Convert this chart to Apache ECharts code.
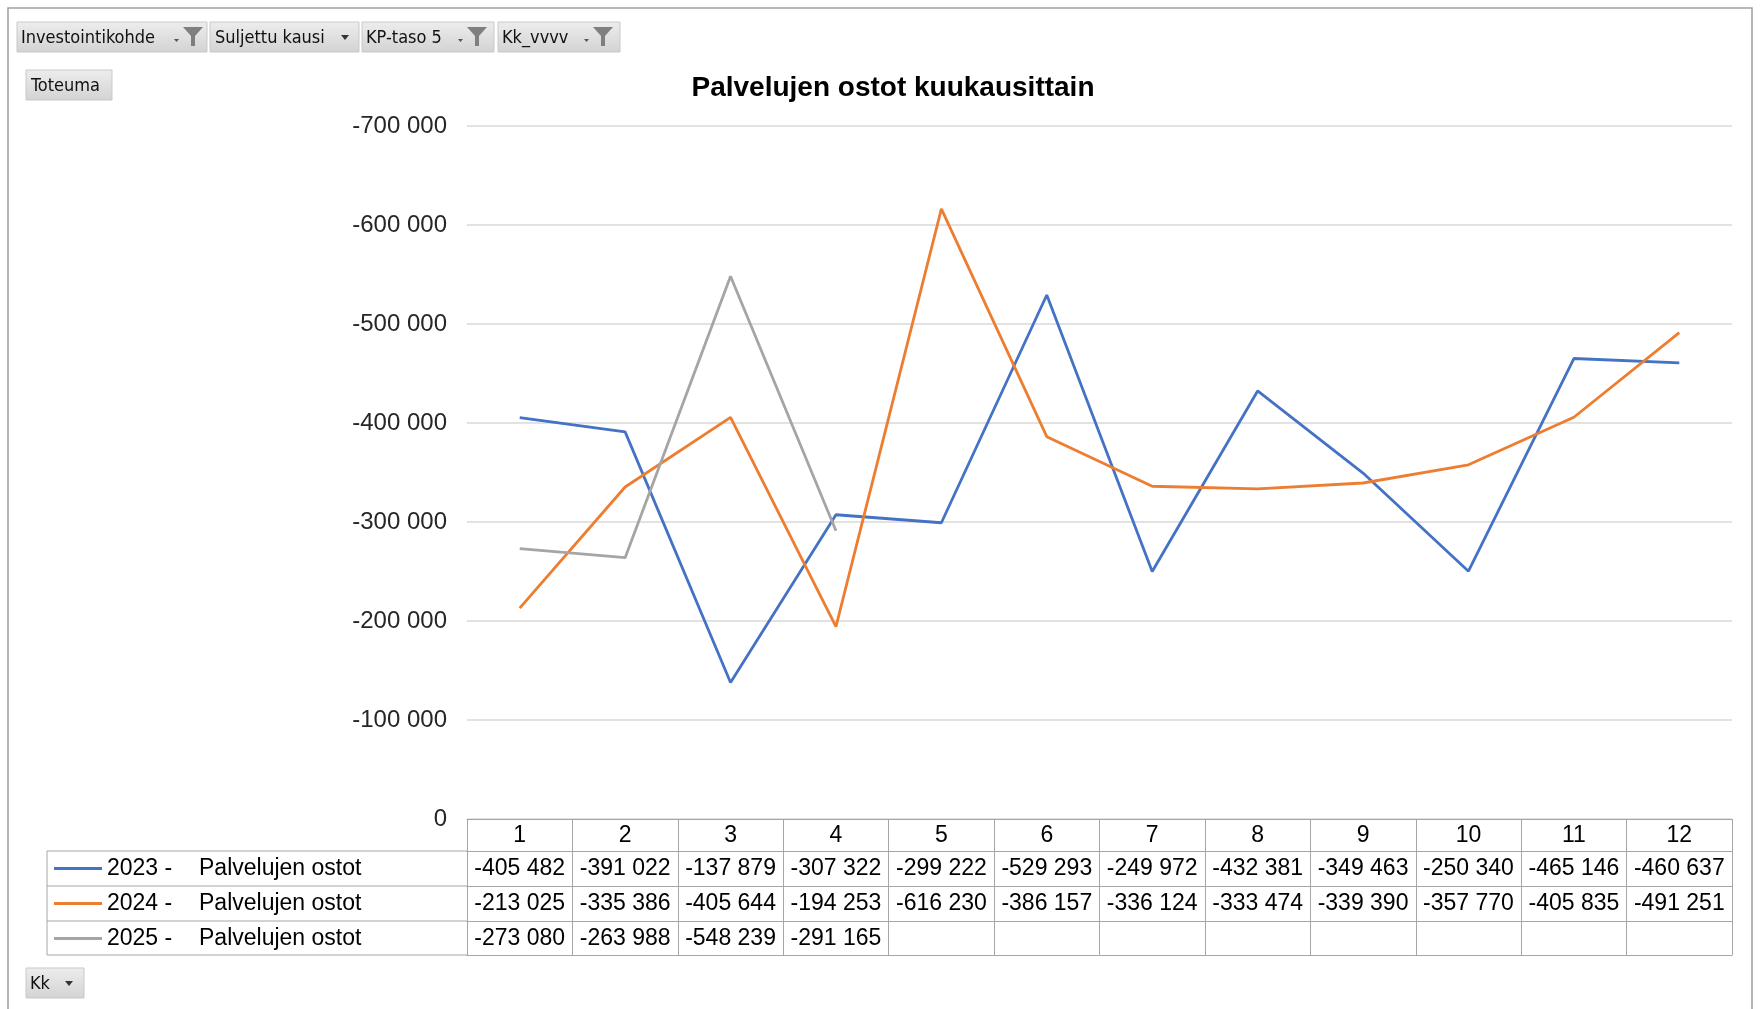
<!DOCTYPE html>
<html>
<head>
<meta charset="utf-8">
<script src="https://cdn.jsdelivr.net/npm/echarts@6/dist/echarts.min.js"></script>
<style>
  html, body { margin: 0; background: #fff; }
  #chart { width: 1761px; height: 1009px; }
</style>
</head>
<body>
<div id="chart"></div>
<script>
// kuukaudet ja sarjat
const months = ['1', '2', '3', '4', '5', '6', '7', '8', '9', '10', '11', '12'];
const v2023 = [-405482, -391022, -137879, -307322, -299222, -529293, -249972, -432381, -349463, -250340, -465146, -460637];
const v2024 = [-213025, -335386, -405644, -194253, -616230, -386157, -336124, -333474, -339390, -357770, -405835, -491251];
const v2025 = [-273080, -263988, -548239, -291165, null, null, null, null, null, null, null, null];
const yearNames = ['2023 -', '2024 -', '2025 -'];
const rowLabel = 'Palvelujen ostot';

const colors = ['#4472C4', '#ED7D31', '#A5A5A5'];
const lineGray = '#a6a6a6';
const FONT = 'Liberation Sans, Arial, sans-serif';
const NARROW = 'Liberation Sans Narrow, DejaVu Sans Condensed, sans-serif';

function fmt(v) {
  if (v == null) return '';
  const s = Math.abs(v).toFixed(0).replace(/\B(?=(\d{3})+(?!\d))/g, ' ');
  return (v < 0 ? '-' : '') + s;
}

const chart = echarts.init(document.getElementById('chart'));

// taulukon rivit x-akseleina
const rows = [v2023, v2024, v2025];
const rowTop = [851, 886, 921];
const rowH = [35, 35, 34];
const gridBottomY = 819;

const xAxes = [{
  type: 'category',
  data: months,
  position: 'bottom',
  offset: 0,
  axisLine: { lineStyle: { color: lineGray, width: 1 } },
  axisTick: { show: true, interval: 0, length: 32, lineStyle: { color: lineGray } },
  axisLabel: { interval: 0, margin: 5, fontSize: 23, color: '#000', fontFamily: FONT }
}];
rows.forEach((vals, i) => {
  xAxes.push({
    type: 'category',
    data: months,
    position: 'bottom',
    offset: rowTop[i] - gridBottomY,
    axisLine: { lineStyle: { color: lineGray, width: 1 } },
    axisTick: { show: true, interval: 0, length: rowH[i], lineStyle: { color: lineGray } },
    axisLabel: {
      interval: 0, margin: 6, fontSize: 23, color: '#000', fontFamily: FONT,
      formatter: (val, idx) => fmt(vals[idx])
    }
  });
});
xAxes.push({
  type: 'category',
  data: months,
  position: 'bottom',
  offset: 955 - gridBottomY,
  axisLine: { lineStyle: { color: lineGray, width: 1 } },
  axisTick: { show: false },
  axisLabel: { show: false }
});

function funnel(x, y) {
  return [
    { type: 'polygon', shape: { points: [[x - 9, y + 12], [x - 4, y + 12], [x - 6.5, y + 15]] }, style: { fill: '#555' } },
    { type: 'polygon', shape: { points: [[x, y], [x + 20, y], [x + 12, y + 9], [x + 12, y + 19], [x + 8, y + 19], [x + 8, y + 9]] }, style: { fill: '#7f7f7f' } }
  ];
}
function tri(x, y) {
  return { type: 'polygon', shape: { points: [[x - 4, y - 2], [x + 4, y - 2], [x, y + 3]] }, style: { fill: '#333' } };
}
function button(x, y, w, h, label, tx) {
  return [
    {
      type: 'rect', shape: { x: x, y: y, width: w, height: h },
      style: {
        fill: new echarts.graphic.LinearGradient(0, 0, 0, 1, [
          { offset: 0, color: '#ededed' }, { offset: 1, color: '#d3d3d3' }
        ]),
        stroke: '#c9c9c9', lineWidth: 1
      }
    },
    {
      type: 'text', x: tx, y: y + h / 2 + 1,
      style: { text: label, fontSize: 18, fontFamily: NARROW, fill: '#111', textVerticalAlign: 'middle' }
    }
  ];
}

const graphics = [].concat(
  [{ type: 'rect', shape: { x: 8, y: 8, width: 1744, height: 1020 }, style: { fill: 'none', stroke: '#a0a0a0', lineWidth: 1.5 }, silent: true }],
  button(17, 22, 190, 30, 'Investointikohde', 21), funnel(183, 27),
  button(210, 22, 149, 30, 'Suljettu kausi', 215), [tri(345, 37)],
  button(362, 22, 132, 30, 'KP-taso 5', 366), funnel(467, 27),
  button(498, 22, 122, 30, 'Kk_vvvv', 502), funnel(593, 27),
  button(26, 70, 86, 30, 'Toteuma', 31),
  button(26, 968, 58, 30, 'Kk', 30), [tri(69, 983)],
  [
    { type: 'text', x: 893, y: 88, style: { text: 'Palvelujen ostot kuukausittain', fontSize: 28, fontWeight: 'bold', fontFamily: FONT, fill: '#000', textAlign: 'center', textVerticalAlign: 'middle' } },
    // legendan sarakkeen reunat
    { type: 'line', shape: { x1: 47, y1: 851, x2: 467, y2: 851 }, style: { stroke: lineGray } },
    { type: 'line', shape: { x1: 47, y1: 886, x2: 467, y2: 886 }, style: { stroke: lineGray } },
    { type: 'line', shape: { x1: 47, y1: 921, x2: 467, y2: 921 }, style: { stroke: lineGray } },
    { type: 'line', shape: { x1: 47, y1: 955, x2: 467, y2: 955 }, style: { stroke: lineGray } },
    { type: 'line', shape: { x1: 47, y1: 851, x2: 47, y2: 955 }, style: { stroke: lineGray } }
  ]
);

const option = {
  animation: false,
  backgroundColor: '#fff',
  color: colors,
  grid: { left: 467, right: 29, top: 126, bottom: 1009 - gridBottomY, containLabel: false },
  legend: {
    orient: 'vertical',
    left: 49,
    top: 851,
    icon: 'rect',
    itemWidth: 48,
    itemHeight: 3,
    itemGap: 10,
    data: yearNames,
    formatter: name => `{yr|${name}}{nm|${rowLabel}}`,
    textStyle: {
      fontSize: 23, fontFamily: FONT, color: '#000', lineHeight: 25,
      rich: {
        yr: { width: 92, fontSize: 23, fontFamily: FONT, color: '#000' },
        nm: { fontSize: 23, fontFamily: FONT, color: '#000' }
      }
    }
  },
  xAxis: xAxes,
  yAxis: {
    type: 'value',
    min: -700000,
    max: 0,
    interval: 100000,
    inverse: true,
    axisLine: { show: false },
    axisTick: { show: false },
    splitLine: { lineStyle: { color: '#d9d9d9', width: 1.5 } },
    axisLabel: { fontSize: 24, fontFamily: FONT, color: '#262626', margin: 20, formatter: v => fmt(v) }
  },
  series: [v2023, v2024, v2025].map((vals, i) => ({
    name: yearNames[i],
    type: 'line',
    xAxisIndex: 0,
    data: vals,
    showSymbol: false,
    connectNulls: false,
    lineStyle: { width: 2.8, color: colors[i] },
    itemStyle: { color: colors[i] }
  })),
  graphic: graphics
};

chart.setOption(option);
</script>
</body>
</html>
